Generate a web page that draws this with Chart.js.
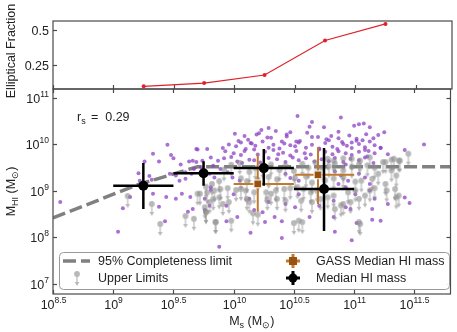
<!DOCTYPE html>
<html>
<head>
<meta charset="utf-8">
<script src="https://cdn.jsdelivr.net/npm/chart.js@4.4.1/dist/chart.umd.min.js"></script>
<style>
    html, body { margin: 0; padding: 0; background: #fff; }
    #wrap { position: relative; width: 457px; height: 332px; }
    #wrap canvas { position: absolute; left: 0; top: 0; }
</style>
</head>
<body>
<div id="wrap">
    <canvas id="chart-frac" width="457" height="332"></canvas>
    <canvas id="chart-hi" width="457" height="332"></canvas>
</div>
<script>
// ===== DATA (all masses in log10 solar masses) =====

// top panel: elliptical fraction per stellar mass bin
const fracMass = [9.25, 9.75, 10.25, 10.75, 11.25];
const fracValue = [0.098, 0.121, 0.179, 0.425, 0.543];

// 95% completeness limit
const limitMass = [8.5, 9.2, 9.7, 11.8];
const limitHI = [8.42, 9.13, 9.52, 9.52];

// HI detections
const detMass = [
    8.56, 9.04, 9.08, 9.14, 9.33, 9.38, 9.43, 9.44, 9.52, 9.57, 9.64, 9.62, 9.66,
    9.21, 9.30, 9.22, 9.32, 9.33, 9.45, 9.48, 9.50, 9.38, 9.56, 9.26, 9.47, 9.52, 9.55, 9.60,
    9.63, 9.66, 9.69, 9.65, 9.60,
    9.70, 9.78, 9.69, 9.74, 9.81, 9.87, 9.67, 9.73, 9.83, 9.80, 9.84, 9.81,
    9.88, 10.14, 10.40, 10.26, 10.03, 9.94, 9.80, 9.76, 9.76, 9.81, 10.34, 10.40,
    10.84, 10.98, 11.15, 11.02, 10.83, 10.63,
    10.53, 10.89, 11.00, 11.04, 11.08, 11.13, 10.65, 10.63, 10.75, 10.29, 10.23,
    10.21, 10.81, 10.87, 10.77, 10.70, 10.52, 10.44, 10.35, 10.31, 10.61, 10.96, 11.02, 11.10,
    11.16, 11.20, 11.25, 10.98, 11.02, 11.07, 10.01, 10.04, 10.09, 10.12, 10.15, 10.19, 10.28,
    10.40, 10.44, 10.47, 10.54, 10.65, 10.79, 10.87, 10.91,
    9.91, 9.96, 10.02, 10.06, 10.10, 10.14, 10.18, 10.24, 10.29, 10.33, 10.38, 10.42, 10.47,
    10.51, 10.55, 10.60, 10.65, 10.71, 10.76, 10.82, 10.86, 10.90, 10.94, 10.98, 11.04, 11.09,
    11.13, 11.17, 11.22, 11.12, 11.17, 11.22, 11.28, 11.42, 11.58,
    9.93, 10.00, 10.06, 10.09, 10.17, 10.20, 10.26, 10.33, 10.37, 10.41, 10.47, 10.52, 10.59,
    10.64, 10.71, 10.76, 10.82, 10.87, 10.93, 10.98, 11.04, 11.09, 11.11,
    9.92, 9.98, 10.03, 10.07, 10.13, 10.17, 10.22, 10.29, 10.36, 10.43, 10.49, 10.54, 10.60,
    10.67, 10.73, 10.79, 10.84, 10.91, 10.97, 11.04, 11.09, 11.16, 10.93,
    9.89, 9.95, 9.99, 10.05, 10.43, 10.47, 10.54, 10.84, 10.89, 10.95, 11.04, 11.09, 11.13,
    10.87, 10.93,
    10.00, 10.13, 9.94, 10.29, 10.43, 10.54, 10.83, 10.93, 11.01, 11.13, 11.17, 11.42, 11.46,
    11.15, 10.97, 10.71, 10.51, 10.17, 10.24, 11.28, 11.22
];
const detHI = [
    8.76, 8.12, 8.63, 8.87, 8.94, 8.66, 8.35, 8.87, 8.83, 8.94, 8.87, 8.55, 8.61,
    9.38, 9.32, 9.22, 9.24, 9.80, 9.99, 9.77, 9.70, 9.63, 9.57, 9.63, 9.37, 9.33, 9.22, 9.26,
    9.63, 9.65, 9.90, 9.37, 9.40,
    9.89, 9.90, 9.62, 9.65, 9.72, 9.65, 9.47, 9.51, 9.54, 9.37, 9.29, 9.08,
    7.80, 8.10, 7.99, 8.33, 8.44, 8.35, 8.68, 8.59, 8.83, 9.02, 8.44, 8.35,
    8.12, 7.94, 8.38, 8.31, 8.44, 8.44,
    10.61, 10.58, 10.40, 10.43, 10.45, 10.37, 10.48, 10.38, 10.37, 10.35, 10.31,
    10.24, 10.18, 10.27, 10.11, 10.16, 10.06, 10.21, 10.29, 10.14, 10.25, 10.19, 10.08, 10.22,
    10.13, 10.20, 10.26, 10.04, 10.12, 10.09, 10.23, 10.07, 10.18, 10.10, 10.02, 10.21, 10.15,
    10.06, 10.17, 10.26, 10.04, 10.16, 10.09, 10.13, 10.01,
    9.92, 10.00, 9.96, 10.04, 9.90, 10.03, 9.97, 10.06, 9.93, 9.99, 9.91, 10.02, 9.98,
    9.96, 10.07, 9.93, 9.99, 9.91, 10.03, 9.95, 9.90, 10.05, 9.97, 9.92, 10.01, 9.94,
    10.06, 9.98, 9.93, 9.86, 9.81, 9.92, 9.79, 9.88, 10.00,
    9.85, 9.81, 9.77, 9.86, 9.89, 9.78, 9.84, 9.88, 9.79, 9.82, 9.76, 9.86, 9.81,
    9.78, 9.89, 9.84, 9.79, 9.85, 9.81, 9.77, 9.84, 9.88, 9.74,
    9.70, 9.73, 9.63, 9.60, 9.67, 9.66, 9.61, 9.71, 9.68, 9.62, 9.72, 9.66, 9.70,
    9.63, 9.68, 9.64, 9.71, 9.62, 9.69, 9.66, 9.72, 9.60, 9.57,
    9.47, 9.40, 9.29, 9.22, 9.37, 9.28, 9.22, 9.42, 9.33, 9.22, 9.37, 9.29, 9.15,
    9.15, 9.08,
    8.93, 8.83, 8.68, 8.76, 8.72, 8.93, 8.79, 8.65, 8.93, 9.01, 8.83, 8.86, 8.74,
    8.61, 8.61, 8.68, 8.65, 8.59, 8.54, 8.72, 8.36
];

// HI upper limits
const limMass = [
    9.12, 9.32, 9.39, 9.60, 9.67, 9.70, 9.77, 9.85, 9.77, 9.82, 9.88,
    9.72, 9.78, 9.84, 9.89, 9.95, 10.02, 9.83, 9.88, 9.96, 9.77, 9.76, 9.85, 9.98, 10.13,
    10.16, 10.20, 10.11, 10.27, 10.31, 10.35, 10.42, 10.47, 10.28, 10.36, 10.43, 10.50,
    10.10, 10.17, 10.06, 9.91, 9.80,
    10.53, 10.58, 10.64, 10.69, 10.56, 10.65, 10.54, 10.57, 10.84, 10.89, 10.91, 10.97,
    11.04, 11.09, 11.13, 11.17, 11.04, 11.05, 11.34, 11.35, 10.95, 11.01, 10.78, 10.72, 10.83,
    9.92, 9.98, 10.05, 10.13, 10.18, 10.24, 10.31, 10.38, 10.43, 10.50, 10.57, 10.62, 10.68,
    10.73, 10.79, 10.84, 10.91, 10.98, 11.04, 11.11, 11.17, 11.26, 11.31, 11.37, 11.45,
    10.06, 10.11, 10.20, 10.29, 10.36, 10.51, 10.60, 10.65, 10.76, 10.83, 10.91, 11.01,
    11.06, 11.15, 11.20, 11.31, 11.35,
    10.78, 10.83, 10.91, 10.98, 11.05, 11.13, 11.24, 11.33, 11.38,
    11.37, 11.27, 11.26
];
const limHI = [
    8.89, 8.72, 8.29, 8.46, 8.40, 8.94, 8.55, 8.33, 9.09, 9.15, 9.21,
    8.94, 8.97, 9.01, 9.04, 9.06, 9.02, 8.83, 8.86, 8.76, 8.54, 8.65, 8.33, 8.36, 8.76,
    8.52, 8.49, 8.83, 8.97, 8.94, 9.01, 9.04, 9.06, 8.83, 8.83, 8.79, 8.31,
    9.01, 8.97, 9.04, 8.72, 8.76,
    9.08, 9.04, 8.97, 9.01, 8.79, 8.76, 8.36, 8.33, 8.61, 8.69, 8.72, 8.76,
    8.83, 8.90, 9.01, 9.06, 8.33, 8.29, 9.04, 8.86, 8.97, 9.01, 8.86, 8.83, 8.90,
    9.46, 9.56, 9.60, 9.41, 9.49, 9.52, 9.57, 9.45, 9.54, 9.43, 9.58, 9.50, 9.61,
    9.48, 9.53, 9.59, 9.44, 9.52, 9.57, 9.55, 9.50, 9.62, 9.67, 9.65, 9.80,
    9.27, 9.21, 9.24, 9.30, 9.25, 9.28, 9.31, 9.18, 9.23, 9.27, 9.30, 9.20,
    9.22, 9.26, 9.37, 9.44, 9.33,
    9.69, 9.65, 9.70, 9.69, 9.65, 9.72, 9.62, 9.69, 9.65,
    8.90, 9.01, 9.15
];

// median HI mass of this sample (with bin widths and spread)
const medMass = [9.25, 9.75, 10.25, 10.75];
const medHI = [9.11, 9.38, 9.49, 9.04];
const medMassLo = [9.0, 9.5, 10.0, 10.5];
const medMassHi = [9.5, 10.0, 10.5, 11.0];
const medHILo = [8.61, 9.11, 9.11, 8.14];
const medHIHi = [9.60, 9.64, 9.90, 9.92];

// GASS median HI mass
const gassMass = [10.20, 10.70];
const gassHI = [9.15, 9.345];
const gassMassLo = [10.0, 10.51];
const gassMassHi = [10.5, 11.0];
const gassHILo = [8.55, 8.72];
const gassHIHi = [9.77, 9.94];

const xTicks = [8.5, 9, 9.5, 10, 10.5, 11, 11.5];
const yTicks = [7, 8, 9, 10, 11];
const fracTicks = [0.25, 0.5];

// ===== STYLE =====
const FONT = "'Liberation Sans', Arial, sans-serif";
const FRAME = '#4a4a4a';
const PURPLE = 'rgba(140, 65, 195, 0.75)';
const GREY = 'rgba(140, 140, 140, 0.62)';
const BROWN = '#9a520f';
const BROWN_BAR = '#c07a30';
const RED = '#e0202a';

const toXY = (xs, ys) => xs.map((x, i) => ({ x: x, y: ys[i] }));

/** Grey circle with a downward arrow, circle sits at image centre */
function makeArrowMarker() {
    const solid = document.createElement('canvas');
    solid.width = 10; solid.height = 32;
    const c = solid.getContext('2d');
    c.fillStyle = '#000'; c.strokeStyle = '#000';
    c.lineWidth = 1.2;
    c.beginPath(); c.moveTo(5, 16); c.lineTo(5, 26); c.stroke();
    c.beginPath(); c.moveTo(2.7, 24); c.lineTo(7.3, 24); c.lineTo(5, 28); c.closePath(); c.fill();
    c.beginPath(); c.arc(5, 16, 2.9, 0, Math.PI * 2); c.fill();
    // recolour with a single alpha so overlaps inside one marker don't darken
    const out = document.createElement('canvas');
    out.width = 10; out.height = 32;
    const o = out.getContext('2d');
    o.drawImage(solid, 0, 0);
    o.globalCompositeOperation = 'source-in';
    o.fillStyle = GREY;
    o.fillRect(0, 0, 10, 32);
    return out;
}
const arrowMarker = makeArrowMarker();

/** Draw a sequence of text pieces, each {t, size, dy} */
function drawRich(ctx, parts, x, y, align) {
    let total = 0;
    parts.forEach(p => { ctx.font = `${p.size}px ${FONT}`; total += ctx.measureText(p.t).width; });
    let cx = align === 'center' ? x - total / 2 : align === 'right' ? x - total : x;
    ctx.textAlign = 'left';
    parts.forEach(p => {
        ctx.font = `${p.size}px ${FONT}`;
        ctx.fillText(p.t, cx, y + (p.dy || 0));
        cx += ctx.measureText(p.t).width;
    });
}

function powerLabel(v) {
    const exp = Number.isInteger(v) ? String(v) : v.toFixed(1);
    return [{ t: '10', size: 12.5 }, { t: exp, size: 8.5, dy: -6 }];
}

function tickMark(ctx, x1, y1, x2, y2) {
    ctx.beginPath(); ctx.moveTo(x1, y1); ctx.lineTo(x2, y2); ctx.stroke();
}

function drawErrorBars(chart, xs, ys, xlo, xhi, ylo, yhi, color, width) {
    const { ctx, scales: { x, y } } = chart;
    ctx.save();
    ctx.strokeStyle = color;
    ctx.lineWidth = width;
    xs.forEach((xv, i) => {
        ctx.beginPath();
        ctx.moveTo(x.getPixelForValue(xlo[i]), y.getPixelForValue(ys[i]));
        ctx.lineTo(x.getPixelForValue(xhi[i]), y.getPixelForValue(ys[i]));
        ctx.moveTo(x.getPixelForValue(xv), y.getPixelForValue(ylo[i]));
        ctx.lineTo(x.getPixelForValue(xv), y.getPixelForValue(yhi[i]));
        ctx.stroke();
    });
    ctx.restore();
}

// ===== TOP PANEL: elliptical fraction =====
const fracAxes = {
    id: 'fracAxes',
    afterDraw(chart) {
        const { ctx, chartArea: a, scales: { x, y } } = chart;
        ctx.save();
        ctx.strokeStyle = FRAME;
        ctx.lineWidth = 1.2;
        ctx.strokeRect(a.left, a.top, a.right - a.left, a.bottom - a.top);
        xTicks.forEach(t => {
            const px = Math.round(x.getPixelForValue(t)) + 0.5;
            tickMark(ctx, px, a.bottom, px, a.bottom - 4);
        });
        ctx.fillStyle = '#222';
        ctx.textBaseline = 'middle';
        fracTicks.forEach(t => {
            const py = Math.round(y.getPixelForValue(t)) + 0.5;
            tickMark(ctx, a.left, py, a.left + 4, py);
            drawRich(ctx, [{ t: String(t), size: 12.5 }], a.left - 4, py + 1, 'right');
        });
        ctx.save();
        ctx.translate(15, 51);
        ctx.rotate(-Math.PI / 2);
        ctx.textBaseline = 'alphabetic';
        drawRich(ctx, [{ t: 'Elliptical Fraction', size: 12.5 }], 0, 0, 'center');
        ctx.restore();
        ctx.restore();
    }
};

new Chart(document.getElementById('chart-frac'), {
    type: 'scatter',
    data: {
        datasets: [{
            data: toXY(fracMass, fracValue),
            showLine: true,
            borderColor: RED,
            backgroundColor: RED,
            borderWidth: 1.2,
            pointRadius: 2,
            pointBorderWidth: 0
        }]
    },
    options: {
        responsive: false,
        devicePixelRatio: 1,
        animation: false,
        layout: { padding: { left: 53, right: 5, top: 21, bottom: 243 } },
        plugins: { legend: { display: false }, tooltip: { enabled: false } },
        scales: {
            x: { type: 'linear', display: false, min: 8.5, max: 11.8 },
            y: { type: 'linear', display: false, min: 0.079, max: 0.564 }
        }
    },
    plugins: [fracAxes]
});

// ===== BOTTOM PANEL: HI mass vs stellar mass =====
const hiDecor = {
    id: 'hiDecor',
    beforeDatasetDraw(chart, args) {
        if (args.index === 1) {
            drawErrorBars(chart, gassMass, gassHI, gassMassLo, gassMassHi, gassHILo, gassHIHi, BROWN_BAR, 2);
        }
        if (args.index === 0) {
            drawErrorBars(chart, medMass, medHI, medMassLo, medMassHi, medHILo, medHIHi, '#000', 2.5);
        }
    },
    afterDraw(chart) {
        const { ctx, chartArea: a, scales: { x, y } } = chart;
        ctx.save();
        ctx.strokeStyle = FRAME;
        ctx.lineWidth = 1.2;
        ctx.strokeRect(a.left, a.top, a.right - a.left, a.bottom - a.top);
        ctx.fillStyle = '#222';
        ctx.textBaseline = 'alphabetic';
        xTicks.forEach(t => {
            const px = Math.round(x.getPixelForValue(t)) + 0.5;
            tickMark(ctx, px, a.bottom, px, a.bottom - 4);
            tickMark(ctx, px, a.top, px, a.top + 4);
            drawRich(ctx, powerLabel(t), px, a.bottom + 15, 'center');
        });
        yTicks.forEach(t => {
            const py = Math.round(y.getPixelForValue(t)) + 0.5;
            tickMark(ctx, a.left, py, a.left + 4, py);
            tickMark(ctx, a.right, py, a.right - 4, py);
            drawRich(ctx, powerLabel(t), a.left - 4, py + 4, 'right');
        });

        // axis titles
        drawRich(ctx, [
            { t: 'M', size: 12.5 }, { t: 's', size: 9, dy: 3 },
            { t: ' (M', size: 12.5 }, { t: '\u2299', size: 9, dy: 3 }, { t: ')', size: 12.5 }
        ], (a.left + a.right) / 2, 325, 'center');
        ctx.save();
        ctx.translate(15, (a.top + a.bottom) / 2);
        ctx.rotate(-Math.PI / 2);
        drawRich(ctx, [
            { t: 'M', size: 12.5 }, { t: 'HI', size: 9, dy: 3 },
            { t: ' (M', size: 12.5 }, { t: '\u2299', size: 9, dy: 3 }, { t: ')', size: 12.5 }
        ], 0, 0, 'center');
        ctx.restore();

        // spearman coefficient
        drawRich(ctx, [{ t: 'r', size: 12.5 }, { t: 's', size: 9, dy: 3 }], 77, 121, 'left');
        drawRich(ctx, [{ t: '=  0.29', size: 12.5 }], 91, 121, 'left');

        drawLegend(ctx);
        ctx.restore();
    }
};

function drawLegend(ctx) {
    ctx.save();
    ctx.fillStyle = 'rgba(255,255,255,0.9)';
    ctx.strokeStyle = '#9a9a9a';
    ctx.lineWidth = 1;
    ctx.beginPath();
    ctx.roundRect(59.5, 252.5, 390, 37, 4);
    ctx.fill();
    ctx.stroke();

    // completeness sample
    ctx.strokeStyle = '#808080';
    ctx.lineWidth = 3.5;
    ctx.setLineDash([13, 5]);
    ctx.beginPath(); ctx.moveTo(63, 261); ctx.lineTo(90, 261); ctx.stroke();
    ctx.setLineDash([]);

    // upper limit sample
    ctx.drawImage(arrowMarker, 72, 258);

    // GASS sample
    ctx.strokeStyle = BROWN_BAR;
    ctx.lineWidth = 3;
    ctx.beginPath();
    ctx.moveTo(286, 261); ctx.lineTo(300, 261);
    ctx.moveTo(293, 254); ctx.lineTo(293, 268);
    ctx.stroke();
    ctx.fillStyle = BROWN;
    ctx.fillRect(289, 257, 8, 8);

    // median sample
    ctx.strokeStyle = '#000';
    ctx.beginPath();
    ctx.moveTo(286, 278); ctx.lineTo(300, 278);
    ctx.moveTo(293, 271); ctx.lineTo(293, 285);
    ctx.stroke();
    ctx.fillStyle = '#000';
    ctx.beginPath(); ctx.arc(293, 278, 4.5, 0, Math.PI * 2); ctx.fill();

    ctx.fillStyle = '#222';
    ctx.textBaseline = 'middle';
    drawRich(ctx, [{ t: '95% Completeness limit', size: 12.5 }], 98, 262, 'left');
    drawRich(ctx, [{ t: 'Upper Limits', size: 12.5 }], 98, 279, 'left');
    drawRich(ctx, [{ t: 'GASS Median HI mass', size: 12.5 }], 316, 262, 'left');
    drawRich(ctx, [{ t: 'Median HI mass', size: 12.5 }], 316, 279, 'left');
    ctx.restore();
}

new Chart(document.getElementById('chart-hi'), {
    type: 'scatter',
    data: {
        datasets: [
            {
                label: 'Median HI mass',
                data: toXY(medMass, medHI),
                pointRadius: 5,
                pointBackgroundColor: '#000',
                pointBorderWidth: 0
            },
            {
                label: 'GASS Median HI mass',
                data: toXY(gassMass, gassHI),
                pointStyle: 'rect',
                pointRadius: 5.5,
                pointBackgroundColor: BROWN,
                pointBorderColor: '#fff',
                pointBorderWidth: 1
            },
            {
                label: 'Upper Limits',
                data: toXY(limMass, limHI),
                pointStyle: arrowMarker
            },
            {
                label: 'Detections',
                data: toXY(detMass, detHI),
                pointRadius: 2,
                pointBackgroundColor: PURPLE,
                pointBorderWidth: 0
            },
            {
                label: '95% Completeness limit',
                data: toXY(limitMass, limitHI),
                showLine: true,
                borderColor: '#808080',
                borderWidth: 3.5,
                borderDash: [13, 5],
                pointRadius: 0
            }
        ]
    },
    options: {
        responsive: false,
        devicePixelRatio: 1,
        animation: false,
        layout: { padding: { left: 53, right: 5, top: 89, bottom: 38 } },
        plugins: { legend: { display: false }, tooltip: { enabled: false } },
        scales: {
            x: { type: 'linear', display: false, min: 8.5, max: 11.8 },
            y: { type: 'linear', display: false, min: 6.785, max: 11.19 }
        }
    },
    plugins: [hiDecor]
});
</script>
</body>
</html>
